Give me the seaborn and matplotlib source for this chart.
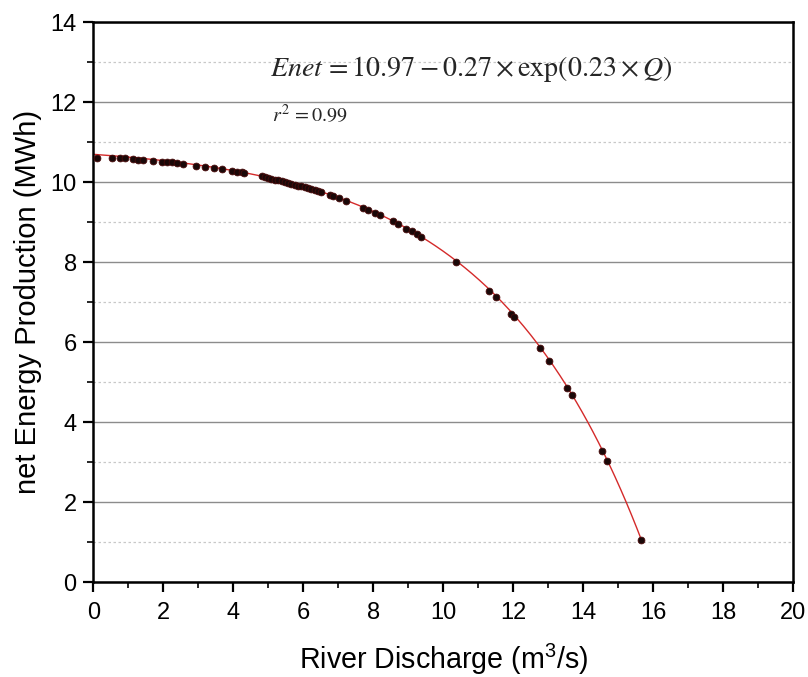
import numpy as np
import pandas as pd
import matplotlib
matplotlib.use("Agg")
import matplotlib.pyplot as plt
import seaborn as sns
from matplotlib.ticker import MultipleLocator

# River discharge (m3/s) and net energy production (MWh) samples
discharge = [0.10, 0.53, 0.76, 0.91, 1.14, 1.29, 1.43, 1.71, 1.95, 2.10, 2.24, 2.38,
             2.55, 2.93, 3.19, 3.45, 3.67, 3.95, 4.10, 4.24, 4.31, 4.81, 4.90, 5.00,
             5.09, 5.19, 5.28, 5.38, 5.47, 5.57, 5.66, 5.76, 5.85, 5.95, 6.04, 6.14,
             6.23, 6.33, 6.42, 6.52, 6.76, 6.86, 7.03, 7.22, 7.71, 7.86, 8.05, 8.19,
             8.57, 8.71, 8.95, 9.10, 9.24, 9.38, 10.38, 11.31, 11.51, 11.95, 12.02,
             12.76, 13.02, 13.53, 13.67, 14.53, 14.69, 15.64]
energy = [10.62, 10.62, 10.61, 10.60, 10.58, 10.57, 10.56, 10.54, 10.52, 10.51, 10.50, 10.48,
          10.47, 10.42, 10.39, 10.36, 10.33, 10.29, 10.27, 10.25, 10.24, 10.15, 10.13, 10.11,
          10.09, 10.07, 10.05, 10.03, 10.01, 9.99, 9.97, 9.94, 9.92, 9.90, 9.88, 9.85,
          9.83, 9.80, 9.78, 9.75, 9.68, 9.65, 9.60, 9.54, 9.37, 9.31, 9.24, 9.18,
          9.02, 8.96, 8.84, 8.77, 8.70, 8.62, 8.00, 7.28, 7.12, 6.70, 6.64,
          5.85, 5.54, 4.85, 4.68, 3.29, 3.03, 1.05]

# Fitted model: Enet = a - b * exp(c * Q)
fit_a, fit_b, fit_c = 10.97, 0.27, 0.23
q_fit = np.linspace(0.0, 15.64, 300)
e_fit = fit_a - fit_b * np.exp(fit_c * q_fit)

points = pd.DataFrame({"Q": discharge, "E": energy})
curve = pd.DataFrame({"Q": q_fit, "E": e_fit})

sns.set_style("ticks")
plt.rcParams["font.family"] = ["Liberation Sans", "DejaVu Sans"]
plt.rcParams["mathtext.fontset"] = "stix"
plt.rcParams["mathtext.rm"] = "Liberation Sans"

fig = plt.figure(figsize=(8.08, 6.77), dpi=100)
ax = fig.add_axes([0.1155, 0.140, 0.866, 0.827])

sns.lineplot(data=curve, x="Q", y="E", ax=ax, color="#d42a2a", lw=1.0, zorder=2)
sns.scatterplot(data=points, x="Q", y="E", ax=ax, s=24, color="#1a0808",
                edgecolor="#4a0a0a", linewidth=0.6, zorder=3)

ax.set_xlim(0, 20)
ax.set_ylim(0, 14)
ax.xaxis.set_major_locator(MultipleLocator(2))
ax.xaxis.set_minor_locator(MultipleLocator(1))
ax.yaxis.set_major_locator(MultipleLocator(2))
ax.yaxis.set_minor_locator(MultipleLocator(1))

ax.grid(axis="y", which="major", color="#8c8c8c", lw=1.0, ls="-")
ax.grid(axis="y", which="minor", color="#c8c8c8", lw=0.9, ls=(0, (2, 2)))
ax.set_axisbelow(True)

for side in ["left", "bottom", "top", "right"]:
    ax.spines[side].set_linewidth(1.8)
    ax.spines[side].set_color("black")

ax.tick_params(axis="both", which="major", direction="out", length=7, width=1.6,
               labelsize=17, colors="black")
ax.tick_params(axis="x", which="major", pad=7)
ax.tick_params(axis="y", which="major", pad=5)
ax.tick_params(axis="both", which="minor", direction="out", length=4, width=1.4)
ax.tick_params(top=False, right=False, which="both")

ax.set_xlabel(r"River Discharge (m$^\mathregular{3}$/s)", fontsize=20.6, labelpad=13,
              color="black", math_fontfamily="custom")
ax.set_ylabel("net Energy Production (MWh)", fontsize=21, labelpad=6, color="black")

ax.text(5.05, 12.83,
        r"$\mathit{Enet}\,=10.97-0.27\times\mathrm{exp}(0.23\times\mathit{Q})$",
        fontsize=20.2, va="center", ha="left")
ax.text(5.1, 11.7, r"$\mathit{r}^{2}\,=0.99$", fontsize=14.5, va="center", ha="left")

fig.savefig("out.png", dpi=100, facecolor="white")
